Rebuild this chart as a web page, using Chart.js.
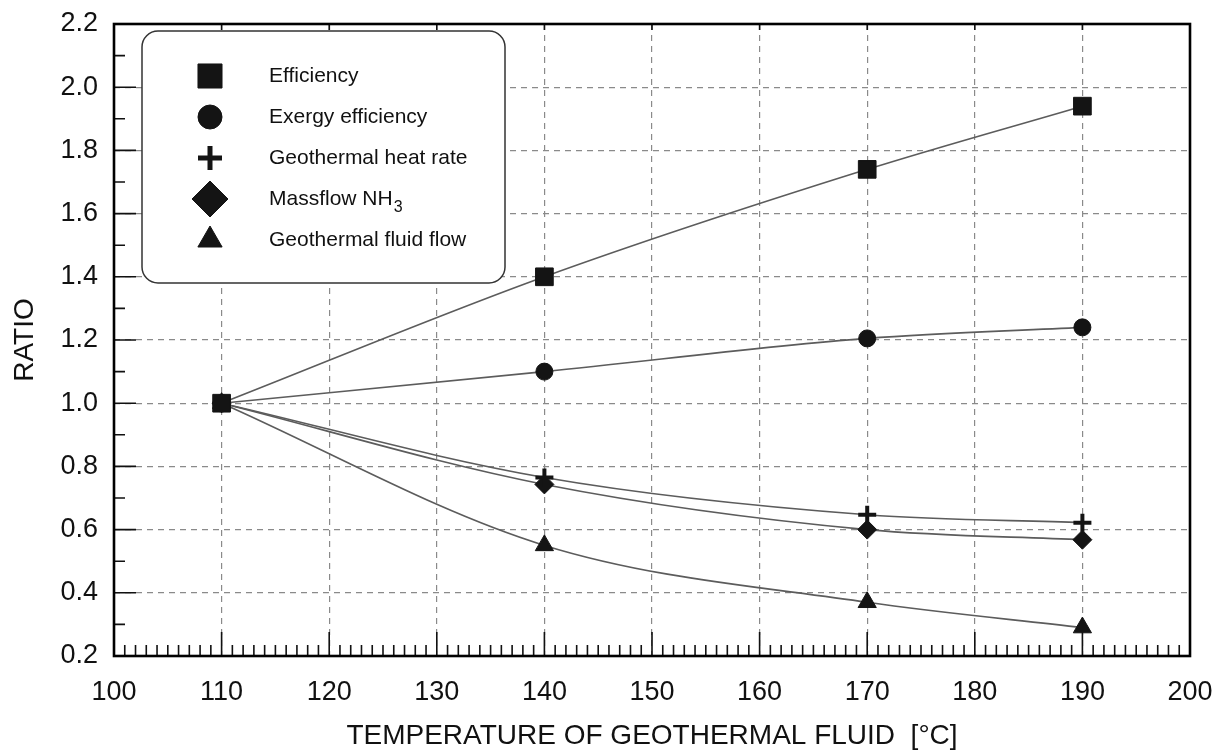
<!DOCTYPE html>
<html><head><meta charset="utf-8">
<script src="https://cdn.jsdelivr.net/npm/chart.js@4.4.0/dist/chart.umd.min.js"></script>
<style>html,body{margin:0;padding:0;background:#fff;}#wrap{width:1223px;height:751px;}</style>
</head><body><div id="wrap"><canvas id="c" width="1223" height="751"></canvas></div>
<script>
const temperatures = [110, 140, 170, 190];
const efficiency = [1.0, 1.40, 1.74, 1.94];
const exergyEfficiency = [1.0, 1.10, 1.205, 1.24];
const heatRate = [1.0, 0.765, 0.647, 0.622];
const massflowNH3 = [1.0, 0.743, 0.60, 0.568];
const fluidFlow = [1.0, 0.55, 0.37, 0.29];
const seriesNames = ['Efficiency', 'Exergy efficiency', 'Geothermal heat rate', 'Massflow NH', 'Geothermal fluid flow'];
const xTickValues = [100, 110, 120, 130, 140, 150, 160, 170, 180, 190, 200];
const yTickValues = [0.2, 0.4, 0.6, 0.8, 1.0, 1.2, 1.4, 1.6, 1.8, 2.0, 2.2];

const FONT = '"Liberation Sans", Arial, Helvetica, sans-serif';
const LINE = '#5c5c5c';
const MARK = '#141414';

const styles = [
  {pointStyle: 'rect', radius: 12.5, bw: 1},
  {pointStyle: 'circle', radius: 8.5, bw: 1},
  {pointStyle: 'cross', radius: 9, bw: 4},
  {pointStyle: 'rectRot', radius: 9.5, bw: 1},
  {pointStyle: 'triangle', radius: 10.5, bw: 1}
];
const legendStyles = [
  {pointStyle: 'rect', radius: 17, bw: 1},
  {pointStyle: 'circle', radius: 12, bw: 1},
  {pointStyle: 'cross', radius: 12, bw: 5},
  {pointStyle: 'rectRot', radius: 18, bw: 1},
  {pointStyle: 'triangle', radius: 14, bw: 1}
];
const allSeries = [efficiency, exergyEfficiency, heatRate, massflowNH3, fluidFlow];

const datasets = allSeries.map((vals, i) => ({
  label: seriesNames[i],
  data: temperatures.map((t, j) => ({x: t, y: vals[j]})),
  borderColor: LINE,
  borderWidth: 1.6,
  backgroundColor: MARK,
  pointBackgroundColor: MARK,
  pointBorderColor: MARK,
  pointStyle: styles[i].pointStyle,
  pointRadius: styles[i].radius,
  pointBorderWidth: styles[i].bw,
  cubicInterpolationMode: 'monotone',
  fill: false
}));

const framePlugin = {
  id: 'frame',
  beforeDatasetsDraw(chart) {
    const {ctx, chartArea: a, scales: {x, y}} = chart;
    ctx.save();
    ctx.strokeStyle = '#111';
    ctx.lineWidth = 1.6;
    ctx.beginPath();
    for (let v = 100; v <= 200; v++) {
      const px = x.getPixelForValue(v);
      const len = (v % 10 === 0) ? 24 : 11;
      ctx.moveTo(px, a.bottom);
      ctx.lineTo(px, a.bottom - len);
    }
    for (let k = 100; k <= 200; k += 10) {
      const px = x.getPixelForValue(k);
      ctx.moveTo(px, a.top);
      ctx.lineTo(px, a.top + 6);
    }
    for (let k = 2; k <= 22; k++) {
      const py = y.getPixelForValue(k / 10);
      const len = (k % 2 === 0) ? 22 : 11;
      ctx.moveTo(a.left, py);
      ctx.lineTo(a.left + len, py);
    }
    ctx.stroke();
    ctx.lineWidth = 2.6;
    ctx.strokeStyle = '#000';
    ctx.strokeRect(a.left, a.top, a.right - a.left, a.bottom - a.top);
    ctx.restore();
  },
  afterDatasetsDraw(chart) {
    const ctx = chart.ctx;
    ctx.save();
    const bx = 142, by = 31, bw = 363, bh = 252, r = 16;
    ctx.beginPath();
    ctx.roundRect(bx, by, bw, bh, r);
    ctx.fillStyle = '#fff';
    ctx.fill();
    ctx.lineWidth = 1.5;
    ctx.strokeStyle = '#333';
    ctx.stroke();
    const rows = [76, 117, 158, 199, 240];
    const mx = 210, tx = 269;
    rows.forEach((ry, i) => {
      const s = legendStyles[i];
      ctx.fillStyle = MARK;
      ctx.strokeStyle = MARK;
      ctx.lineWidth = s.bw;
      Chart.helpers.drawPoint(ctx, {pointStyle: s.pointStyle, radius: s.radius, rotation: 0, borderWidth: s.bw}, mx, ry);
      ctx.fillStyle = '#111';
      ctx.font = '21px ' + FONT;
      ctx.textBaseline = 'middle';
      ctx.textAlign = 'left';
      ctx.fillText(seriesNames[i], tx, ry);
      if (i === 3) {
        const w = ctx.measureText(seriesNames[i]).width;
        ctx.font = '16px ' + FONT;
        ctx.fillText('3', tx + w + 1, ry + 9);
      }
    });
    ctx.restore();
  }
};

new Chart(document.getElementById('c'), {
  type: 'line',
  data: {datasets},
  options: {
    responsive: false,
    devicePixelRatio: 1,
    animation: false,
    layout: {padding: {left: 0, right: 33, top: 24, bottom: 0}},
    plugins: {legend: {display: false}, tooltip: {enabled: false}},
    scales: {
      x: {
        type: 'linear',
        min: 100, max: 200,
        afterBuildTicks: s => { s.ticks = xTickValues.map(v => ({value: v})); },
        afterFit: s => { s.height = 95; s.paddingLeft = 0; s.paddingRight = 0; },
        grid: {color: '#8a8a8a', lineWidth: 1.2, drawTicks: false},
        border: {display: false, dash: [6, 5]},
        ticks: {font: {size: 27, family: FONT}, color: '#111', padding: 20, maxRotation: 0,
                callback: v => String(v)},
        title: {display: true, text: 'TEMPERATURE OF GEOTHERMAL FLUID  [°C]',
                font: {size: 28, family: FONT, lineHeight: 1}, color: '#111', padding: {top: 0, bottom: 1}}
      },
      y: {
        type: 'linear',
        min: 0.2, max: 2.2,
        afterBuildTicks: s => { s.ticks = yTickValues.map(v => ({value: v})); },
        afterFit: s => { s.width = 114; s.paddingTop = 0; s.paddingBottom = 0; },
        grid: {color: '#8a8a8a', lineWidth: 1.2, drawTicks: false},
        border: {display: false, dash: [6, 5]},
        ticks: {font: {size: 27, family: FONT}, color: '#111', padding: 16,
                callback: v => Number(v).toFixed(1)},
        title: {display: true, text: 'RATIO',
                font: {size: 28, family: FONT, lineHeight: 1}, color: '#111', padding: {top: 11, bottom: 0}}
      }
    }
  },
  plugins: [framePlugin]
});
</script></body></html>
